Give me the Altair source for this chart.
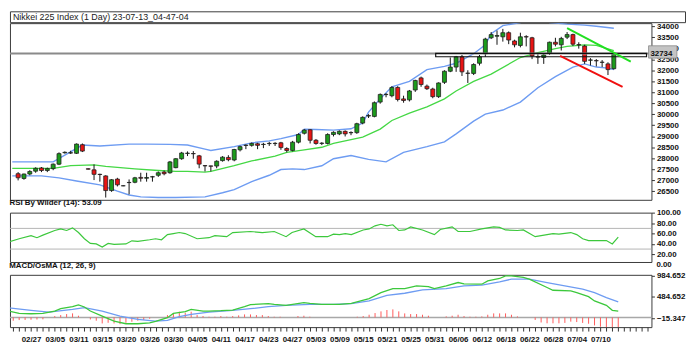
import altair as alt
import pandas as pd

FONT = "Liberation Sans"

title_text = "Nikkei 225 Index (1 Day) 23-07-13_04-47-04"
rsi_title = "RSI By Wilder (14): 53.09"
macd_title = "MACD/OsMA (12, 26, 9)"
last_price = 32734
level_top = 32767
level_bottom = 32615
level_start = 72.5

date_labels = ["02/21", "02/27", "03/05", "03/11", "03/15", "03/20", "03/26", "03/30",
               "04/05", "04/11", "04/17", "04/23", "04/27", "05/03", "05/09", "05/15",
               "05/21", "05/25", "05/31", "06/06", "06/12", "06/18", "06/22", "06/28",
               "07/04", "07/10"]

bars = list(range(1, 104))
opens = [27298, 27081, 27283, 27414, 27558, 27443, 27529, 27732, 28250, 28240,
         28224, 28615, 27520, 27472, 27269, 27197, 26531, 27052, 26750, 26900,
         26907, 27130, 27090, 27150, 27226, 27370, 27341, 27573, 27979, 28220,
         28215, 28109, 27665, 27650, 27646, 27892, 28037, 27921, 28384, 28580,
         28586, 28659, 28625, 28665, 28668, 28702, 28441, 28355, 28731, 29136,
         29295, 28818, 28675, 28673, 29079, 29108, 29224, 29160, 29166, 29600,
         29920, 29904, 30555, 30895, 30844, 31220, 30700, 30656, 31105, 31654,
         31278, 31148, 30801, 31452, 31958, 32147, 32610, 31870, 31857, 32320,
         32754, 33478, 33550, 33521, 33709, 33333, 33130, 33530, 33478, 32600,
         32581, 32769, 33275, 33159, 33507, 33623, 33165, 33101, 32460, 32440,
         32368, 32291, 32074]
highs = [27370, 27300, 27457, 27587, 27602, 27573, 27761, 28268, 28311, 28340,
         28673, 28673, 27540, 27718, 27298, 27226, 27052, 27110, 26770, 27037,
         27153, 27341, 27341, 27197, 27399, 27443, 27877, 28000, 28290, 28311,
         28325, 28152, 27690, 27660, 27906, 28094, 28138, 28427, 28572, 28630,
         28716, 28702, 28700, 28745, 28730, 28745, 28500, 28789, 29136, 29324,
         29324, 28876, 28730, 29136, 29224, 29267, 29267, 29224, 29614, 29904,
         30005, 30584, 30946, 30960, 31278, 31278, 30844, 31105, 31568, 31712,
         31351, 31206, 31452, 32002, 32581, 32653, 32697, 32002, 32320, 32697,
         33478, 33738, 33810, 33883, 33767, 33391, 33709, 33594, 33521, 32754,
         32783, 33304, 33478, 33521, 33738, 33666, 33275, 33159, 32552, 32508,
         32465, 32364, 32760]
lows = [26994, 27023, 27226, 27341, 27370, 27370, 27457, 27689, 28210, 28195,
        28195, 28282, 27490, 27008, 26936, 26213, 26473, 26719, 26730, 26357,
        26864, 26936, 26936, 26936, 27153, 27226, 27298, 27545, 27930, 28100,
        27979, 27545, 27400, 27400, 27545, 27848, 27863, 27863, 28311, 28413,
        28528, 28413, 28460, 28560, 28560, 28384, 28268, 28311, 28673, 29079,
        28673, 28615, 28600, 28630, 28992, 29050, 28992, 29050, 29108, 29542,
        29831, 29860, 30482, 30772, 30772, 30584, 30526, 30584, 31018, 31249,
        31105, 30729, 30743, 31380, 31915, 31929, 31741, 31423, 31784, 32219,
        32610, 33420, 33160, 33304, 33188, 33044, 33044, 33087, 32508, 32291,
        32291, 32696, 33087, 32899, 33420, 33101, 32985, 32291, 32219, 32175,
        32147, 31785, 32031]
closes = [27110, 27283, 27399, 27544, 27443, 27529, 27732, 28210, 28270, 28250,
          28644, 28325, 27505, 27269, 27260, 26531, 27023, 26792, 26746, 26893,
          27110, 27090, 27125, 27160, 27341, 27298, 27833, 27979, 28239, 28230,
          28205, 27733, 27655, 27640, 27863, 28051, 27935, 28398, 28528, 28595,
          28673, 28586, 28635, 28675, 28678, 28485, 28355, 28731, 29079, 29281,
          28818, 28673, 28685, 29079, 29180, 29224, 29108, 29170, 29571, 29860,
          29940, 30526, 30902, 30905, 31220, 30671, 30627, 31061, 31539, 31351,
          31162, 30801, 31423, 31958, 32147, 32610, 31929, 31860, 32263, 32610,
          33420, 33622, 33579, 33709, 33376, 33159, 33521, 33515, 32653, 32615,
          32696, 33275, 33188, 33449, 33623, 33188, 33155, 32407, 32470, 32432,
          32360, 32031, 32734]

upper_bar = [0, 7, 12, 15, 20, 23, 27, 30, 33, 34, 38, 41, 44, 46, 49, 50, 52, 55, 58,
             60, 61, 63, 65, 68, 71, 74, 76, 79, 81, 82, 84, 87, 89, 92, 95, 98, 100, 103]
upper_val = [27833, 27833, 28600, 28557, 28644, 28644, 28630, 28600, 28413, 28355,
             28528, 28702, 28789, 28890, 29079, 29324, 29310, 29280, 29340, 29600,
             30100, 30700, 31250, 31496, 32031, 32175, 32320, 32754, 33159, 33666,
             34028, 34172, 34350, 34172, 34100, 34056, 34000, 33912]
mid_bar = [0, 7, 10, 14, 16, 21, 25, 28, 30, 33, 34, 38, 41, 45, 47, 50, 53, 55, 60,
           63, 65, 68, 71, 74, 76, 79, 82, 87, 90, 93, 95, 98, 100, 103]
mid_val = [27544, 27544, 27660, 27703, 27631, 27515, 27443, 27399, 27400, 27371,
           27400, 27660, 27877, 28094, 28268, 28384, 28500, 28673, 28963, 29325,
           29716, 30048, 30338, 30700, 31061, 31496, 31828, 32580, 32798, 32986,
           33087, 33159, 33130, 32899]
lower_bar = [0, 5, 8, 11, 15, 18, 20, 22, 25, 28, 33, 36, 38, 41, 44, 46, 48, 50, 53,
             55, 58, 61, 64, 67, 71, 74, 76, 79, 81, 84, 87, 90, 93, 96, 98, 100, 102, 103]
lower_val = [27197, 27197, 27110, 26965, 26792, 26502, 26329, 26242, 26213, 26213,
             26242, 26430, 26575, 26937, 27226, 27487, 27516, 27486, 27660, 27979,
             28124, 27950, 27834, 28269, 28529, 28746, 29108, 29687, 30005, 30193,
             30555, 31206, 31712, 32147, 32291, 32147, 32100, 32031]

green_trend_bar = [95.0, 105.9]
green_trend_val = [33913, 32393]
red_trend_bar = [93.8, 104.5]
red_trend_val = [32654, 31247]

rsi_bar = [0, 2, 4, 5, 6, 8, 9, 10, 11, 12, 13, 14, 15, 16, 17, 18, 20, 21, 22, 24,
           25, 26, 27, 28, 29, 30, 32, 34, 35, 37, 38, 41, 43, 45, 47, 48, 50, 52,
           54, 55, 56, 57, 58, 60, 61, 62, 63, 64, 65, 66, 67, 68, 70, 72, 73, 75,
           76, 78, 80, 82, 83, 84, 86, 87, 89, 90, 92, 93, 95, 96, 97, 98, 100, 101,
           102, 103]
rsi_val = [43, 50, 56, 52, 57, 66, 69, 66, 71, 62, 50, 41, 40, 34, 41, 39, 40, 46, 45,
           48, 50, 48, 58, 60, 62, 60, 50, 52, 56, 54, 62, 64, 62, 64, 54, 62, 69, 54,
           54, 59, 58, 60, 58, 67, 69, 75, 78, 75, 77, 66, 67, 73, 67, 58, 68, 73, 64,
           64, 69, 73, 72, 67, 66, 67, 54, 56, 60, 59, 62, 58, 50, 46.5, 46.5, 46.5,
           40, 53.09]

macd_bar = [0, 2, 4, 6, 8, 9, 11, 12, 13, 14, 16, 18, 20, 22, 24, 25, 27, 28, 30, 31,
            33, 34, 36, 38, 40, 41, 44, 45, 47, 50, 51, 53, 56, 58, 61, 63, 65, 67, 69,
            71, 72, 74, 76, 77, 80, 81, 83, 84, 85, 87, 88, 91, 92, 95, 96, 98, 99,
            101, 102, 103]
macd_val = [160, 95, 87, 95, 151, 207, 254, 294, 246, 151, 32, -87, -150, -150, -127,
            -95, -7, 95, 135, 191, 151, 151, 159, 175, 254, 302, 326, 310, 286, 350,
            334, 310, 310, 334, 445, 588, 683, 683, 747, 731, 683, 747, 826, 794, 786,
            866, 921, 984.65, 985, 945, 905, 707, 643, 627, 588, 492, 389, 286, 167, 151]
signal_bar = [0, 4, 7, 11, 13, 16, 19, 22, 25, 27, 29, 31, 34, 38, 41, 44, 47, 51, 55,
              58, 61, 64, 67, 70, 74, 77, 80, 83, 85, 88, 91, 94, 97, 99, 101, 103]
signal_val = [230, 167, 127, 191, 230, 151, 32, -47, -87, -71, 16, 72, 127, 167, 207,
              254, 286, 310, 310, 326, 389, 524, 572, 651, 683, 747, 762, 842, 905, 905,
              826, 747, 667, 588, 469, 370]
hist_bar = [1, 2, 3, 4, 5, 6, 8, 9, 10, 11, 12, 14, 15, 16, 17, 18, 19, 20, 21, 22, 23,
            24, 27, 28, 29, 30, 31, 32, 33, 34, 35, 36, 37, 38, 39, 40, 41, 42, 43, 44,
            45, 46, 49, 50, 51, 59, 60, 61, 62, 63, 64, 65, 66, 67, 68, 69, 70, 71, 74,
            75, 76, 77, 78, 79, 80, 81, 82, 83, 84, 85, 86, 89, 90, 91, 92, 93, 94, 95,
            96, 97, 98, 99, 100, 101, 102, 103]
hist_val = [-79, -63, -60, -55, -50, -45, 32, 55, 79, 95, 40, -48, -79, -143, -127,
            -143, -159, -127, -103, -79, -63, -32, 55, 95, 135, 111, 135, 55, 32, 16, 16,
            32, 16, 32, 48, 71, 71, 55, 55, 32, 16, 16, 32, 40, 16, 16, 32, 63, 103, 143,
            175, 190, 143, 95, 79, 79, 63, 40, 24, 40, 63, 32, 16, 16, 24, 63, 95, 95, 95,
            63, 24, -60, -120, -140, -140, -140, -130, -100, -110, -130, -150, -190, -220,
            -230, -240, -230]

rsi_ticks = [100, 80, 60, 40, 20]
rsi_levels = [70, 30]
macd_ticks = [984.652, 484.652, -15.347]
main_ticks = list(range(26500, 34001, 500))

X_DOMAIN = [0.45, 108.6]
MAIN_DOMAIN = [26110, 34143]
RSI_DOMAIN = [5, 100.5]
MACD_DOMAIN = [-230, 1008]
W = 650

GREEN = "#1c9c1c"
RED = "#e81414"
BLUE = "#6e9cf2"
MIDGREEN = "#45d845"

xs = alt.Scale(domain=X_DOMAIN, nice=False, zero=False)


def yaxis(values, fmt):
    return alt.Axis(orient="right", values=values, format=fmt, title=None, grid=False,
                    domain=False, tickSize=3, labelPadding=2, labelOverlap=False,
                    labelBound=False)


# ---------- main panel ----------
ys = alt.Scale(domain=MAIN_DOMAIN, nice=False, zero=False)
ohlc = pd.DataFrame({"bar": bars, "o": opens, "h": highs, "l": lows, "c": closes})
main_axis = yaxis(main_ticks, "d")


def band(bx, bv, color, width):
    df = pd.DataFrame({"bar": bx, "v": bv})
    return alt.Chart(df).mark_line(color=color, strokeWidth=width, clip=True).encode(
        x=alt.X("bar:Q", scale=xs, axis=None),
        y=alt.Y("v:Q", scale=ys, axis=main_axis))


upper = band(upper_bar, upper_val, BLUE, 1.4)
lower = band(lower_bar, lower_val, BLUE, 1.4)
mid = band(mid_bar, mid_val, MIDGREEN, 1.3)

wicks = alt.Chart(ohlc).mark_rule(color="#111", strokeWidth=1, clip=True).encode(
    x=alt.X("bar:Q", scale=xs, axis=None),
    y=alt.Y("l:Q", scale=ys, axis=main_axis), y2="h:Q")
bodies = alt.Chart(ohlc).mark_bar(size=4, stroke="#202020", strokeWidth=0.8, clip=True).encode(
    x=alt.X("bar:Q", scale=xs, axis=None),
    y=alt.Y("o:Q", scale=ys, axis=main_axis), y2="c:Q",
    fill=alt.condition("datum.c >= datum.o", alt.value(GREEN), alt.value(RED)))

hline = alt.Chart(pd.DataFrame({"p": [level_top]})).mark_rule(
    color="#8a8a8a", strokeWidth=2, clip=True).encode(y=alt.Y("p:Q", scale=ys, axis=main_axis))
zone = alt.Chart(pd.DataFrame({"x1": [level_start], "p1": [level_top], "p2": [level_bottom]})).mark_rect(
    fillOpacity=0, stroke="#111", strokeWidth=1.2, clip=True).encode(
    x=alt.X("x1:Q", scale=xs, axis=None), x2=alt.datum(X_DOMAIN[1]),
    y=alt.Y("p1:Q", scale=ys, axis=main_axis), y2="p2:Q")

gtrend = alt.Chart(pd.DataFrame({"bar": green_trend_bar, "v": green_trend_val})).mark_line(
    color="#22e022", strokeWidth=2, clip=True).encode(
    x=alt.X("bar:Q", scale=xs, axis=None), y=alt.Y("v:Q", scale=ys, axis=main_axis))
rtrend = alt.Chart(pd.DataFrame({"bar": red_trend_bar, "v": red_trend_val})).mark_line(
    color="#f01010", strokeWidth=2, clip=True).encode(
    x=alt.X("bar:Q", scale=xs, axis=None), y=alt.Y("v:Q", scale=ys, axis=main_axis))

price_df = pd.DataFrame({"p": [last_price], "t": [str(last_price)]})
price_box = alt.Chart(price_df).mark_rect(fill="#c4c4c4", stroke="#888", strokeWidth=0.8, clip=False).encode(
    x=alt.datum(108.95), x2=alt.datum(113.8),
    y=alt.Y("p:Q", scale=ys, axis=main_axis), y2=alt.datum(last_price + 380),
    yOffset=alt.value(4))
price_text = alt.Chart(price_df).mark_text(align="left", baseline="middle", dx=4, font=FONT,
                                           fontSize=8, fontWeight="bold", color="#111",
                                           clip=False).encode(
    x=alt.datum(X_DOMAIN[1]), y=alt.Y("p:Q", scale=ys, axis=main_axis), text="t:N")

main = alt.layer(lower, upper, mid, wicks, bodies, hline, zone, gtrend, rtrend,
                 price_box, price_text).properties(width=W, height=179)

# ---------- RSI panel ----------
rs = alt.Scale(domain=RSI_DOMAIN, nice=False, zero=False)
rsi_axis = yaxis(rsi_ticks, ".2f")
rsi_line = alt.Chart(pd.DataFrame({"bar": rsi_bar, "v": rsi_val})).mark_line(
    color="#3cc83c", strokeWidth=1.2, clip=True).encode(
    x=alt.X("bar:Q", scale=xs, axis=None),
    y=alt.Y("v:Q", scale=rs, axis=rsi_axis))
rsi_lv = alt.Chart(pd.DataFrame({"v": rsi_levels})).mark_rule(color="#b4b4b4", strokeWidth=1).encode(
    y=alt.Y("v:Q", scale=rs, axis=rsi_axis))
rsi_zero = alt.Chart(pd.DataFrame({"v": [0], "t": ["0.00"]})).mark_text(
    align="left", baseline="middle", dx=5, font=FONT, fontSize=8, fontWeight="bold",
    color="#111", clip=False).encode(x=alt.datum(X_DOMAIN[1]), y=alt.Y("v:Q", scale=rs, axis=rsi_axis),
                                     text="t:N")
rsi = alt.layer(rsi_lv, rsi_line, rsi_zero).properties(width=W, height=50, title=rsi_title)

# ---------- MACD panel ----------
ms = alt.Scale(domain=MACD_DOMAIN, nice=False, zero=False)
macd_axis = yaxis(macd_ticks, ".3f")
dates_js = "[" + ",".join("'%s'" % d for d in date_labels) + "]"
x_axis = alt.Axis(values=list(range(1, 109)),
                  labelExpr="datum.value %% 4 == 0 ? %s[datum.value / 4] : ''" % dates_js,
                  tickSize=4, labelPadding=5, domain=False, grid=False,
                  labelOverlap=False, labelFlush=False, labelBound=False, title=None)
zero_line = alt.Chart(pd.DataFrame({"v": [0]})).mark_rule(color="#a8a8a8", strokeWidth=1.5).encode(
    y=alt.Y("v:Q", scale=ms, axis=macd_axis))
hist = alt.Chart(pd.DataFrame({"bar": hist_bar, "v": hist_val})).mark_rule(
    color="#ff5a5a", strokeWidth=1, clip=True).encode(
    x=alt.X("bar:Q", scale=xs, axis=x_axis),
    y=alt.Y("v:Q", scale=ms, axis=macd_axis), y2=alt.datum(0))
macd_line = alt.Chart(pd.DataFrame({"bar": macd_bar, "v": macd_val})).mark_line(
    color="#3cc83c", strokeWidth=1.3, clip=True).encode(
    x=alt.X("bar:Q", scale=xs, axis=x_axis), y=alt.Y("v:Q", scale=ms, axis=macd_axis))
sig_line = alt.Chart(pd.DataFrame({"bar": signal_bar, "v": signal_val})).mark_line(
    color=BLUE, strokeWidth=1.3, clip=True).encode(
    x=alt.X("bar:Q", scale=xs, axis=x_axis), y=alt.Y("v:Q", scale=ms, axis=macd_axis))
macd = alt.layer(zero_line, hist, sig_line, macd_line).properties(width=W, height=53, title=macd_title)

# ---------- header box ----------
header = alt.Chart(pd.DataFrame({"t": [title_text]})).mark_text(
    align="left", baseline="middle", font=FONT, fontSize=9, color="#222").encode(
    x=alt.value(3), y=alt.value(6), text="t:N").properties(width=684, height=11)

panels = alt.vconcat(main, rsi, macd, spacing=13, bounds="flush")
chart = alt.vconcat(header, panels, spacing=1, bounds="flush").properties(
    padding={"left": 0, "top": 0, "right": 0, "bottom": 17})
chart = chart.configure_view(stroke="#3a3a3a", strokeWidth=1).configure_title(
    anchor="start", font=FONT, fontSize=8, fontWeight="bold", color="#111", offset=2
).configure_axis(labelFont=FONT, labelFontSize=8, labelFontWeight="bold", labelColor="#111",
                 tickColor="#333", labelOverlap=False)

chart.save("out.html", embed_options={"renderer": "svg", "actions": False})
